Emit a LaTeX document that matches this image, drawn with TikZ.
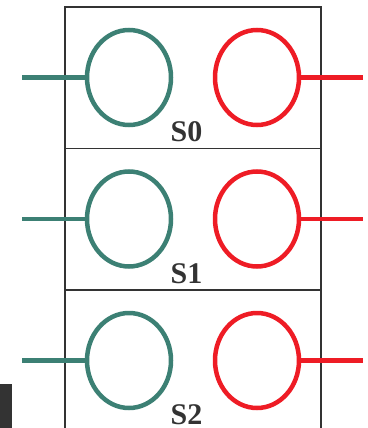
\documentclass[tikz,border=0pt]{standalone}
\usepackage{fontspec}
\setmainfont{Liberation Serif}
\usetikzlibrary{shapes.geometric}
\definecolor{portgreen}{HTML}{3C8074}
\definecolor{portred}{HTML}{EE1C25}
\definecolor{boxgray}{HTML}{333333}
\tikzset{
	port/.style={ellipse, draw, line width=4.5pt, minimum width=84pt, minimum height=95pt, inner sep=0pt},
	wire/.style={line width=4.5pt},
	cell/.style={draw=boxgray, line width=1.5pt},
	slot/.style={font=\fontsize{30}{30}\selectfont\bfseries, text=boxgray, inner sep=0pt}
}
\begin{document}
\begin{tikzpicture}[x=1pt, y=-1pt]
		\useasboundingbox (0, 0) rectangle (367, 428);
		\foreach \i in {0, 1, 2}
		{
			\pgfmathsetmacro\top{7 + 141.5*\i}
			\pgfmathsetmacro\mid{77.5 + 141.5*\i}
			\draw[cell] (65, \top) rectangle + (256, 141.5);
			\node[port, draw=portgreen] (in\i) at (129, \mid) {};
			\node[port, draw=portred] (out\i) at (257, \mid) {};
			\coordinate (a\i) at (22, \mid);
			\coordinate (b\i) at (363, \mid);
			\draw[wire, portgreen] (a\i) -- (in\i.west);
			\draw[wire, portred] (out\i.east) -- (b\i);
			\node[slot, anchor=base] (s\i) at (186.5, \mid + 64) {S\i};
		}
		\fill[boxgray] (0, 384) rectangle (12, 428);
	\end{tikzpicture}
\end{document}
